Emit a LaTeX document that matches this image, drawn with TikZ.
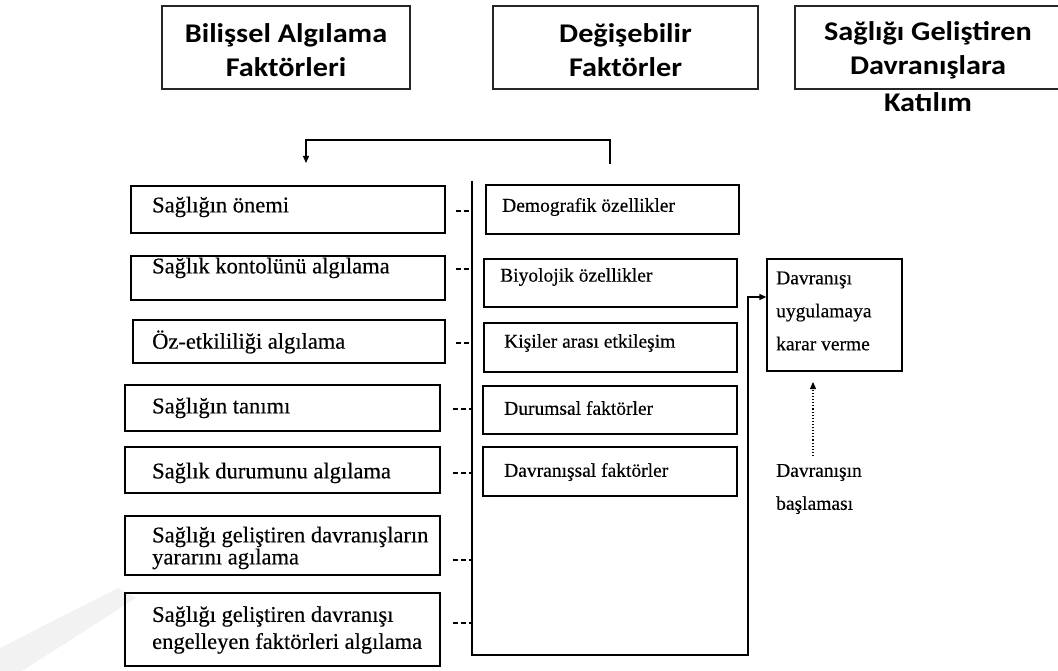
\documentclass[tikz,border=0pt]{standalone}
\usepackage{fontspec}
\setmainfont{Liberation Serif}
\newfontfamily\scanfont[FakeBold=0.4]{Liberation Serif}
\newfontfamily\hdrfont[FakeStretch=1.12]{Carlito}
\usetikzlibrary{arrows.meta,calc}
\begin{document}
\begin{tikzpicture}[x=1pt,y=-1pt,
  hbox/.style={draw=black!85, line width=1.4pt, inner sep=0, fill=white},
  htext/.style={font=\hdrfont\bfseries\fontsize{27}{34}\selectfont, align=center, inner sep=0},
  lbox/.style={draw, line width=1.3pt, inner sep=0},
  ltext/.style={font=\scanfont\fontsize{22.5}{25}\selectfont, align=left, anchor=west, inner sep=0},
  mtext/.style={font=\scanfont\fontsize{19.5}{22}\selectfont, align=left, anchor=west, inner sep=0},
  rtext/.style={font=\scanfont\fontsize{19.5}{33}\selectfont, align=left, anchor=west, inner sep=0},
  link/.style={line width=1.3pt},
  dashlink/.style={line width=1.2pt, dash pattern=on 5pt off 3pt},
  tip/.style={-{Triangle[length=7pt,width=6pt]}}
]
\useasboundingbox (0,0) rectangle (1058,671);
% faint watermark band
\fill[black!5] (0,671) -- (0,648) -- (118,588) -- (136,598) -- (22,671) -- cycle;

% headers
\node[hbox, minimum width=248, minimum height=83] (h1) at (286,47.5) {};
\node[htext] (h1t) at (286,50) {Bilişsel Algılama\\Faktörleri};
\node[hbox, minimum width=265, minimum height=83] (h2) at (625.5,47.5) {};
\node[htext] (h2t) at (625.5,50) {Değişebilir\\Faktörler};
\node[hbox, minimum width=275, minimum height=83] (h3) at (932.5,47.5) {};
\node[htext] (h3t) at (928,67) {Sağlığı Geliştiren\\Davranışlara\\[3pt]Katılım};

% left boxes
\node[lbox, minimum width=314, minimum height=47] (l1) at (288,209.5) {};
\node[ltext] (l1t) at (152,207) {Sağlığın önemi};
\node[lbox, minimum width=314, minimum height=44] (l2) at (288,278) {};
\node[ltext] (l2t) at (152,268) {Sağlık kontolünü algılama};
\node[lbox, minimum width=312, minimum height=43] (l3) at (289,341.5) {};
\node[ltext] (l3t) at (152,342) {Öz-etkililiği algılama};
\node[lbox, minimum width=315, minimum height=46] (l4) at (282.5,408) {};
\node[ltext] (l4t) at (152,408) {Sağlığın tanımı};
\node[lbox, minimum width=315, minimum height=46] (l5) at (282.5,470) {};
\node[ltext] (l5t) at (152,473) {Sağlık durumunu algılama};
\node[lbox, minimum width=315, minimum height=59] (l6) at (282.5,545.5) {};
\node[ltext, font=\scanfont\fontsize{22.5}{22}\selectfont] (l6t) at (152,548) {Sağlığı geliştiren davranışların\\yararını agılama};
\node[lbox, minimum width=315, minimum height=73] (l7) at (282.5,629.5) {};
\node[ltext, font=\scanfont\fontsize{22.5}{27}\selectfont] (l7t) at (152,630) {Sağlığı geliştiren davranışı\\engelleyen faktörleri algılama};

% middle boxes
\node[lbox, minimum width=253, minimum height=49] (m1) at (612.5,209.5) {};
\node[mtext] (m1t) at (502,207) {Demografik özellikler};
\node[lbox, minimum width=253, minimum height=48] (m2) at (610.5,283) {};
\node[mtext] (m2t) at (500,277) {Biyolojik özellikler};
\node[lbox, minimum width=253, minimum height=49] (m3) at (610.5,347.5) {};
\node[mtext] (m3t) at (504,343) {Kişiler arası etkileşim};
\node[lbox, minimum width=254, minimum height=48] (m4) at (610,410) {};
\node[mtext] (m4t) at (504,408) {Durumsal faktörler};
\node[lbox, minimum width=254, minimum height=49] (m5) at (610,471.5) {};
\node[mtext] (m5t) at (504,472) {Davranışsal faktörler};

% right box
\node[lbox, minimum width=135, minimum height=112] (r) at (834.5,315) {};
\node[rtext] (rt) at (776,311) {Davranışı\\uygulamaya\\karar verme};
\node[rtext] (bt) at (776,489) {Davranışın\\başlaması};

% spine and connectors
\coordinate (vt) at (472,181);
\coordinate (vb) at (472,655);
\coordinate (vr) at (748,655);
\draw[link, tip] (vt) -- (vb) -- (vr) |- ([yshift=18pt]r.west);

% dashes from left boxes to spine
\draw[dashlink] ($(l1.east)+(10,1.5)$) coordinate (d1) -- (d1 -| vt);
\draw[dashlink] ($(l2.east)+(10,-9)$) coordinate (d2) -- (d2 -| vt);
\draw[dashlink] ($(l3.east)+(10,1.5)$) coordinate (d3) -- (d3 -| vt);
\draw[dashlink] ($(l4.east)+(12,1)$) coordinate (d4) -- (d4 -| vt);
\draw[dashlink] ($(l5.east)+(12,3)$) coordinate (d5) -- (d5 -| vt);
\draw[dashlink] ($(l6.east)+(12,14.5)$) coordinate (d6) -- (d6 -| vt);
\draw[dashlink] ($(l7.east)+(12,-6.5)$) coordinate (d7) -- (d7 -| vt);

% top bracket
\coordinate (ta) at (610,164);
\coordinate (tb) at (306,163);
\draw[link, tip] (ta) -- ++(0,-24) -| (tb);

% dotted arrow
\coordinate (ds) at (813,456);
\coordinate (de) at (813,382);
\draw[line width=1.1pt, dotted, tip] (ds) -- (de);
\end{tikzpicture}
\end{document}
